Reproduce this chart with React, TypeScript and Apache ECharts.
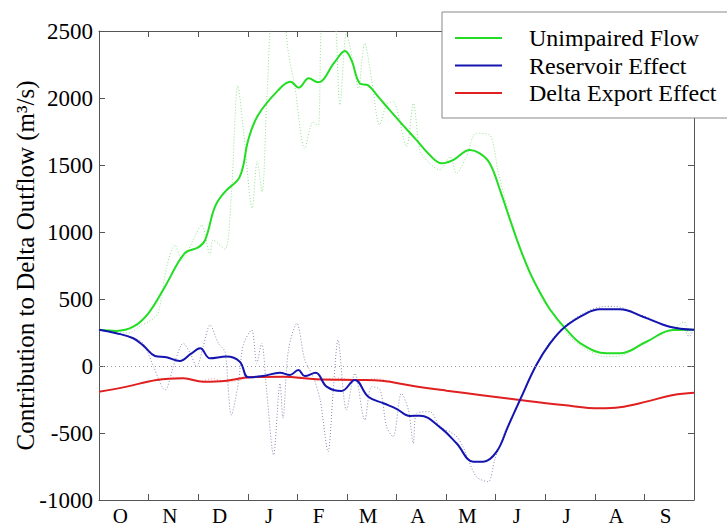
import React, { useEffect, useRef } from "react";
import * as echarts from "echarts";

// Month tick labels (water year Oct–Sep)
const months = ["O", "N", "D", "J", "F", "M", "A", "M", "J", "J", "A", "S"];

// [month offset from Oct 1, m3/s]
const unimpairedSmooth: number[][] = [
  [0, 270], [0.35, 262], [0.7, 295], [1.0, 395], [1.33, 592], [1.73, 842], [2.0, 885], [2.14, 940],
  [2.34, 1189], [2.54, 1300], [2.84, 1413], [3.01, 1687], [3.21, 1873], [3.62, 2060], [3.86, 2122],
  [4.03, 2077], [4.23, 2147], [4.41, 2117], [4.76, 2271], [4.96, 2351], [5.09, 2284], [5.26, 2110],
  [5.43, 2094], [5.63, 2010], [5.85, 1915], [6.13, 1798], [6.4, 1687], [6.67, 1575], [6.91, 1513],
  [7.14, 1537], [7.48, 1612], [7.68, 1587], [7.88, 1513], [8.1, 1300], [8.3, 1080], [8.5, 870],
  [8.7, 690], [8.9, 545], [9.1, 420], [9.4, 283], [9.76, 157], [10.24, 95], [10.5, 95], [11.04, 181],
  [11.58, 269], [12, 270],
];

const reservoirSmooth: number[][] = [
  [0, 270], [0.35, 245], [0.69, 207], [0.9, 150], [1.13, 75], [1.36, 65], [1.63, 37], [1.85, 90],
  [2.04, 132], [2.24, 57], [2.57, 70], [2.84, 32], [3.01, -84], [3.31, -75], [3.65, -50], [3.85, -67],
  [4.02, -30], [4.15, -75], [4.37, -50], [4.59, -154], [4.89, -187], [5.16, -104], [5.43, -229],
  [5.75, -280], [6.0, -320], [6.27, -373], [6.47, -371], [6.88, -458], [7.21, -577], [7.55, -714],
  [7.75, -714], [8.02, -639], [8.25, -450], [8.49, -254], [8.82, 7], [9.1, 170], [9.4, 293],
  [9.83, 393], [10.1, 423], [10.5, 423], [10.97, 368], [11.51, 293], [12, 270],
];

const exportSmooth: number[][] = [
  [0, -192], [0.56, -154], [1.16, -104], [1.7, -92], [2.1, -117], [2.57, -110], [3.04, -84],
  [3.71, -80], [4.39, -99], [5.26, -104], [5.7, -110], [6.34, -149], [7.01, -184], [7.68, -216],
  [8.49, -254], [9.36, -291], [10.1, -316], [10.5, -308], [11.04, -266], [11.58, -216], [12, -199],
];

const unimpairedDaily: number[][] = [
  [0, 272], [0.3, 258], [0.59, 246], [0.86, 306], [1.0, 330], [1.19, 395], [1.36, 729], [1.53, 903],
  [1.67, 791], [1.93, 965], [2.07, 1052], [2.24, 828], [2.3, 940], [2.54, 871], [2.67, 1289],
  [2.8, 2092], [2.92, 1736], [3.09, 1177], [3.19, 1525], [3.29, 1301], [3.39, 2035], [3.52, 2650],
  [3.72, 2600], [3.82, 2333], [3.95, 2085], [4.15, 1624], [4.32, 1823], [4.42, 1786], [4.52, 2650],
  [4.72, 2650], [4.86, 1948], [4.99, 2482], [5.13, 2259], [5.23, 2072], [5.36, 2408], [5.5, 2134],
  [5.66, 1800], [5.8, 1950], [5.93, 1972], [6.2, 1637], [6.34, 1960], [6.47, 1612], [6.6, 1537],
  [6.87, 1463], [7.08, 1562], [7.21, 1438], [7.41, 1562], [7.61, 1736], [7.88, 1724], [8.05, 1450],
  [8.3, 1100], [8.6, 770], [8.9, 530], [9.2, 360], [9.5, 215], [9.8, 130], [10.2, 70], [10.5, 75],
  [10.9, 150], [11.3, 230], [11.6, 280], [11.8, 330], [11.9, 240], [12, 280],
];

const reservoirDaily: number[][] = [
  [0, 272], [0.4, 240], [0.7, 210], [0.89, 169], [1.1, -5], [1.33, -179], [1.53, 32], [1.7, 169],
  [1.84, 95], [1.97, -5], [2.1, 144], [2.24, 306], [2.41, 169], [2.54, 107], [2.67, -366],
  [2.81, -129], [2.91, 157], [3.08, 269], [3.18, 20], [3.28, 169], [3.38, -179], [3.52, -664],
  [3.65, -129], [3.71, -390], [3.82, 119], [3.99, 319], [4.15, 45], [4.32, -80], [4.46, -254],
  [4.62, -639], [4.72, -204], [4.82, 194], [4.99, -328], [5.16, -55], [5.36, -403], [5.5, -154],
  [5.67, -179], [5.8, -453], [5.93, -528], [6.1, -204], [6.24, -328], [6.34, -577], [6.41, -353],
  [6.67, -341], [6.88, -453], [7.18, -515], [7.34, -602], [7.61, -826], [7.85, -863], [7.98, -701],
  [8.2, -480], [8.49, -250], [8.82, 10], [9.1, 180], [9.4, 300], [9.8, 400], [10.1, 440],
  [10.4, 445], [10.8, 400], [11.2, 340], [11.5, 290], [11.8, 270], [11.9, 220], [12, 275],
];

const exportDaily: number[][] = [
  [0, -195], [0.6, -150], [1.0, -120], [1.3, -100], [1.6, -85], [2.0, -115], [2.3, -95],
  [2.6, -120], [3.0, -90], [3.3, -70], [3.6, -85], [4.0, -75], [4.4, -105], [4.8, -90],
  [5.2, -110], [5.6, -95], [6.0, -125], [6.5, -160], [7.0, -185], [8.0, -230], [9.0, -275],
  [10.0, -315], [10.5, -310], [11.0, -268], [11.5, -220], [12, -199],
];

const seriesNames = ["Unimpaired Flow", "Reservoir Effect", "Delta Export Effect"];

const FONT = "Liberation Serif";
const AXIS_COLOR = "#555";

export default function App() {
  const ref = useRef<HTMLDivElement>(null);

  useEffect(() => {
    document.body.style.margin = "0";
    if (!ref.current) return;
    const chart = echarts.init(ref.current, null, { renderer: "svg" });

    const dotted = (data: number[][], color: string) => ({
      type: "line",
      data,
      xAxisIndex: 1,
      yAxisIndex: 0,
      smooth: 0.3,
      symbol: "none",
      silent: true,
      lineStyle: { color, width: 1, type: [1, 2] },
      z: 1,
    });
    const solid = (name: string, data: number[][], color: string) => ({
      type: "line",
      name,
      data,
      xAxisIndex: 1,
      yAxisIndex: 0,
      smooth: 0.4,
      symbol: "none",
      lineStyle: { color, width: 2 },
      itemStyle: { color },
      z: 3,
    });

    const axisLine = { show: true, onZero: false, lineStyle: { color: AXIS_COLOR, width: 1 } };
    const axisTick = { show: true, inside: true, length: 6, lineStyle: { color: AXIS_COLOR } };

    chart.setOption({
      animation: false,
      backgroundColor: "#fff",
      textStyle: { fontFamily: FONT },
      grid: {
        left: 99,
        top: 31,
        width: 595,
        height: 469,
        containLabel: false,
        outerBoundsMode: "none",
      },
      legend: {
        data: seriesNames,
        orient: "vertical",
        left: 442,
        top: 12,
        padding: [14, 40, 13, 13],
        itemGap: 3.5,
        itemWidth: 47,
        itemHeight: 2,
        icon: "rect",
        backgroundColor: "#fff",
        borderColor: "#888",
        borderWidth: 1,
        borderRadius: 0,
        selectedMode: false,
        textStyle: { fontFamily: FONT, fontSize: 24, color: "#000", lineHeight: 24, padding: [0, 0, 0, 22] },
      },
      xAxis: [
        {
          type: "category",
          data: months,
          position: "bottom",
          boundaryGap: true,
          axisLine,
          axisTick,
          axisLabel: { fontFamily: FONT, fontSize: 21, color: "#000", margin: 5, padding: [0, 7, 0, 0] },
          splitLine: { show: false },
        },
        {
          type: "value",
          min: 0,
          max: 12,
          show: false,
          axisLine: { onZero: false },
        },
        {
          type: "category",
          data: months,
          position: "top",
          boundaryGap: true,
          axisLine,
          axisTick,
          axisLabel: { show: false },
          splitLine: { show: false },
        },
      ],
      yAxis: [
        {
          type: "value",
          position: "left",
          min: -1000,
          max: 2500,
          interval: 500,
          name: "Contribution to Delta Outflow (m³/s)",
          nameLocation: "middle",
          nameGap: 61,
          nameMoveOverlap: false,
          nameTextStyle: { fontFamily: FONT, fontSize: 25, color: "#000" },
          axisLine,
          axisTick,
          axisLabel: {
            fontFamily: FONT,
            fontSize: 23,
            color: "#000",
            margin: 6,
            formatter: (v: number) => String(v),
          },
          splitLine: { show: false },
        },
        {
          type: "value",
          position: "right",
          min: -1000,
          max: 2500,
          interval: 500,
          axisLine,
          axisTick,
          axisLabel: { show: false },
          splitLine: { show: false },
        },
      ],
      series: [
        {
          ...dotted(exportDaily, "#eaa0a0"),
          markLine: {
            silent: true,
            symbol: ["none", "none"],
            label: { show: false },
            lineStyle: { type: [1, 3], color: "#999", width: 1 },
            data: [{ yAxis: 0 }],
          },
        },
        dotted(unimpairedDaily, "#8fe08f"),
        dotted(reservoirDaily, "#8a8ab0"),
        solid(seriesNames[0], unimpairedSmooth, "#22dd22"),
        solid(seriesNames[2], exportSmooth, "#e02020"),
        solid(seriesNames[1], reservoirSmooth, "#1414b0"),
      ],
    });

    return () => chart.dispose();
  }, []);

  return <div ref={ref} style={{ width: 727, height: 527 }} />;
}
